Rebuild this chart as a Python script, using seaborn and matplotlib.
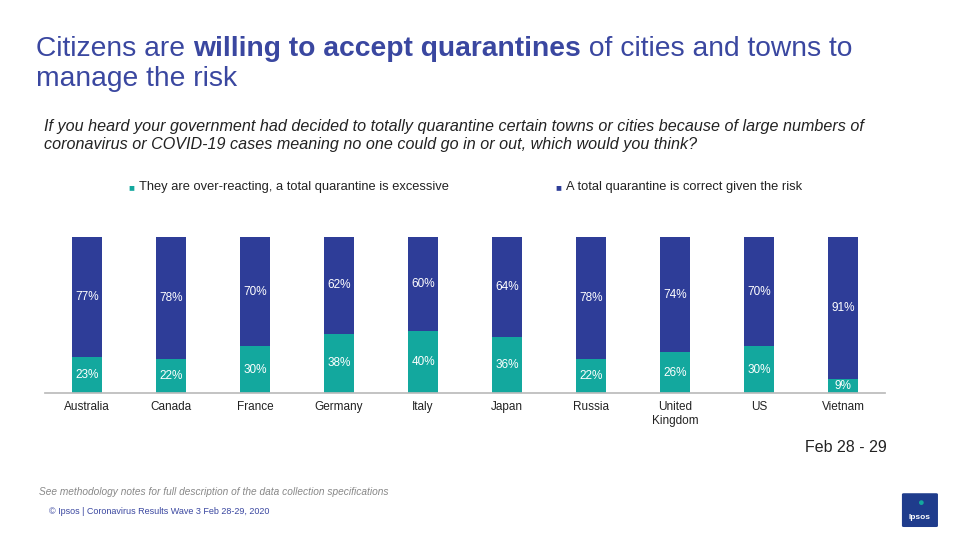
import matplotlib.pyplot as plt
import seaborn as sns
import pandas as pd
from matplotlib.patches import FancyBboxPatch

countries = ['Australia', 'Canada', 'France', 'Germany', 'Italy', 'Japan',
             'Russia', 'United\nKingdom', 'US', 'Vietnam']
over_reacting = [23, 22, 30, 38, 40, 36, 22, 26, 30, 9]
correct = [77, 78, 70, 62, 60, 64, 78, 74, 70, 91]

teal = '#13A89E'
blue = '#2E3D98'
title_col = '#3A47A0'

sns.set_theme(style='white')
plt.rcParams['font.family'] = ['Liberation Sans', 'DejaVu Sans']

df = pd.DataFrame({'country': countries, 'over': over_reacting, 'correct': correct})
df['total'] = df['over'] + df['correct']

fig = plt.figure(figsize=(9.74, 5.45), dpi=100)
ax = fig.add_axes([0.046, 0.279, 0.863, 0.286])

sns.barplot(data=df, x='country', y='total', color=blue, width=0.36, ax=ax,
            saturation=1, linewidth=0)
sns.barplot(data=df, x='country', y='over', color=teal, width=0.36, ax=ax,
            saturation=1, linewidth=0)

for i, (o, c) in enumerate(zip(over_reacting, correct)):
    ax.text(i, o / 2, f'{o}%', ha='center', va='center', color='white', fontsize=8.5)
    ax.text(i, o + c / 2, f'{c}%', ha='center', va='center', color='white', fontsize=8.5)

ax.set_ylim(0, 100)
ax.set_xlim(-0.5, len(countries) - 0.5)
ax.set_xlabel('')
ax.set_ylabel('')
ax.set_yticks([])
ax.tick_params(axis='x', labelsize=8.5, colors='#222222', length=0, pad=6)
for s in ['top', 'right', 'left']:
    ax.spines[s].set_visible(False)
ax.spines['bottom'].set_color('#BBBBBB')

# title with bold middle part
fs = 20.3
title_y = 0.91
fig.canvas.draw()
r = fig.canvas.get_renderer()
t1 = fig.text(0.037, title_y, 'Citizens are ', fontsize=fs, color=title_col, va='center')
x = 0.037 + t1.get_window_extent(r).width / fig.bbox.width
t2 = fig.text(x, title_y, 'willing to accept quarantines', fontsize=fs, color=title_col,
              va='center', fontweight='bold')
x += t2.get_window_extent(r).width / fig.bbox.width
fig.text(x, title_y, ' of cities and towns to', fontsize=fs, color=title_col, va='center')
fig.text(0.037, 0.855, 'manage the risk', fontsize=fs, color=title_col, va='center')

fig.text(0.045, 0.752, 'If you heard your government had decided to totally quarantine certain towns or cities because of large numbers of\n'
         'coronavirus or COVID-19 cases meaning no one could go in or out, which would you think?',
         fontsize=11.6, style='italic', color='#222222', va='center', linespacing=1.25)

fig.text(0.132, 0.657, '■', color=teal, fontsize=7, va='center')
fig.text(0.143, 0.657, 'They are over-reacting, a total quarantine is excessive', fontsize=9.3, va='center', color='#222222')
fig.text(0.570, 0.657, '■', color=blue, fontsize=7, va='center')
fig.text(0.581, 0.657, 'A total quarantine is correct given the risk', fontsize=9.3, va='center', color='#222222')

fig.text(0.91, 0.178, 'Feb 28 - 29', fontsize=11.5, ha='right', va='center', color='#222222')
fig.text(0.04, 0.097, 'See methodology notes for full description of the data collection specifications',
         fontsize=7.3, style='italic', color='#888888', va='center')
fig.text(0.05, 0.062, '© Ipsos | Coronavirus Results Wave 3 Feb 28-29, 2020', fontsize=6.5,
         color=title_col, va='center')

logo = FancyBboxPatch((0.928, 0.035), 0.033, 0.058, boxstyle='round,pad=0.002',
                      transform=fig.transFigure, facecolor='#1F3C8C', edgecolor='none')
fig.patches.append(logo)
fig.text(0.9445, 0.05, 'Ipsos', fontsize=6, color='white', ha='center', va='center', fontweight='bold')
fig.text(0.9445, 0.077, '●', fontsize=8, color=teal, ha='center', va='center')

fig.savefig('out.png', dpi=100)
